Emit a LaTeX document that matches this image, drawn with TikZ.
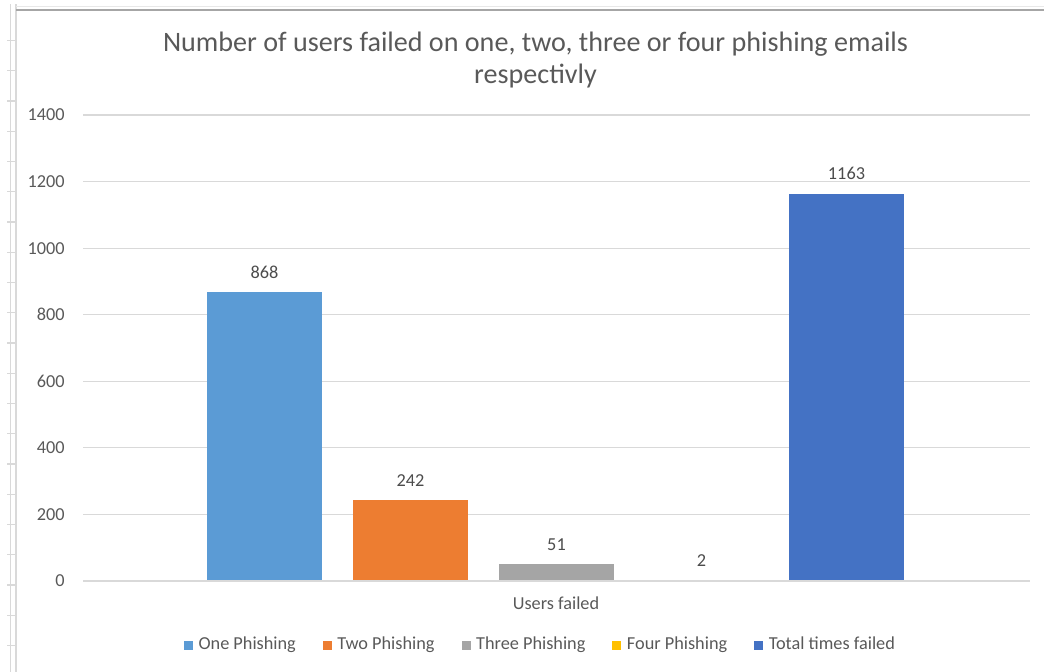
\documentclass[tikz,border=0pt]{standalone}
\usepackage{fontspec}
\setmainfont{Carlito}
\usepackage{tikz}
\usetikzlibrary{positioning}

\definecolor{txtgray}{HTML}{595959}
\definecolor{gridgray}{HTML}{D9D9D9}
\definecolor{edgegray}{HTML}{A6A6A6}
\definecolor{onecol}{HTML}{5B9BD5}
\definecolor{twocol}{HTML}{ED7D31}
\definecolor{threecol}{HTML}{A5A5A5}
\definecolor{fourcol}{HTML}{FFC000}
\definecolor{totalcol}{HTML}{4472C4}

\tikzset{
  gridline/.style={draw=gridgray, line width=0.3mm},
  sheetline/.style={draw=gridgray, line width=0.35mm},
  charttitle/.style={text=txtgray, align=center, inner sep=0pt,
    font=\fontsize{20}{22.8}\selectfont},
  axislabel/.style={text=txtgray, anchor=east, inner sep=0pt,
    font=\fontsize{13}{15}\selectfont},
  barlabel/.style={text=black!70, anchor=base, inner sep=0pt,
    font=\fontsize{13}{15}\selectfont},
  legsq/.style={minimum size=2.25mm, inner sep=0pt},
  legtxt/.style={text=txtgray, inner sep=0pt, text height=1.7ex, text depth=0.45ex,
    font=\fontsize{13}{15}\selectfont},
}

\begin{document}
\begin{tikzpicture}[x=0.25mm, y=-0.25mm]
\useasboundingbox (0,0) rectangle (1044,672);

% spreadsheet edge behind the chart
\draw[sheetline] (10.5,4) -- (10.5,672);
\draw[sheetline] (16,4) -- (16,672);
\draw[draw=gridgray!60, line width=0.3mm] (16,6.5) -- (1044,6.5);
\draw[draw=edgegray, line width=0.4mm] (16,10) -- (1044,10);
\foreach \k in {0,...,20}
    \draw[sheetline] (7,{40.5+30.25*\k}) -- (16,{40.5+30.25*\k});

\node[charttitle] (title) at (535.5,60)
    {Number of users failed on one, two, three or four phishing emails\\respectivly};

% value axis and gridlines
\foreach \v in {0,200,...,1400} {
    \draw[gridline] (83,{581-0.3328*\v}) -- (1030,{581-0.3328*\v});
    \node[axislabel] (a\v) at (65,{581-0.3328*\v}) {\v};
}

% bars
\foreach \x/\v/\c/\n in {207/868/onecol/one, 353/242/twocol/two,
        499/51/threecol/three, 644/2/fourcol/four, 789/1163/totalcol/total} {
    \fill[\c] (\x,581) rectangle ({\x+115},{581-0.3328*\v});
    \node[barlabel] (\n) at ({\x+57.5},{581-0.3328*\v-14}) {\v};
}
\draw[gridline] (83,581) -- (1030,581);

\node[axislabel, anchor=center] (cat) at (556,603) {Users failed};

% legend
\node[legsq, fill=onecol] (sq1) at (188.5,645) {};
\node[legtxt, right=1.25mm of sq1] (lt1) {One Phishing};
\node[legsq, fill=twocol, right=6.6mm of lt1] (sq2) {};
\node[legtxt, right=1.25mm of sq2] (lt2) {Two Phishing};
\node[legsq, fill=threecol, right=6.6mm of lt2] (sq3) {};
\node[legtxt, right=1.25mm of sq3] (lt3) {Three Phishing};
\node[legsq, fill=fourcol, right=6.6mm of lt3] (sq4) {};
\node[legtxt, right=1.25mm of sq4] (lt4) {Four Phishing};
\node[legsq, fill=totalcol, right=6.6mm of lt4] (sq5) {};
\node[legtxt, right=1.25mm of sq5] (lt5) {Total times failed};

\end{tikzpicture}
\end{document}
